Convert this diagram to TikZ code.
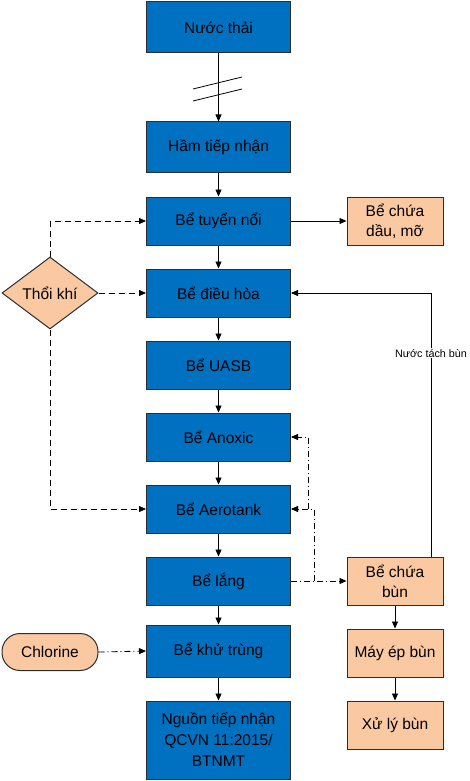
\documentclass[tikz,border=0pt]{standalone}
\usepackage{fontspec}
\setmainfont{Liberation Sans}
\usetikzlibrary{arrows.meta,shapes.geometric,calc}
\definecolor{bluebox}{RGB}{0,112,192}
\definecolor{peach}{RGB}{250,201,162}
\definecolor{edge}{RGB}{45,45,45}
\begin{document}
\begin{tikzpicture}[x=1pt,y=-1pt,
  font=\fontsize{15.5}{20}\selectfont,
  bluestep/.style={draw=edge,line width=1pt,fill=bluebox,minimum width=144pt,minimum height=48pt,inner sep=1pt,align=center},
  peachstep/.style={draw=edge,line width=1pt,fill=peach,minimum width=96pt,minimum height=48pt,inner sep=1pt,align=center},
  arr/.style={draw=black,line width=0.8pt,-{Triangle[length=7pt,width=6pt]}},
  dasharr/.style={arr,dash pattern=on 6pt off 4pt},
  dotarr/.style={arr,dash pattern=on 6pt off 3pt on 1pt off 3pt},
  lbl/.style={font=\fontsize{10.8}{12}\selectfont,fill=white,inner sep=1pt}]
\useasboundingbox (0,0) rectangle (469,781);
\node[bluestep,minimum height=51pt] (nuocthai) at (218.5,27.5) {Nước thải};
\node[bluestep,minimum height=50pt] (ham) at (218.5,147) {Hầm tiếp nhận};
\node[bluestep] (tuyen) at (218.5,221) {Bể tuyển nổi};
\node[bluestep] (dieuhoa) at (218.5,293) {Bể điều hòa};
\node[bluestep] (uasb) at (218.5,365) {Bể UASB};
\node[bluestep] (anoxic) at (218.5,437) {Bể Anoxic};
\node[bluestep] (aerotank) at (218.5,509) {Bể Aerotank};
\node[bluestep] (lang) at (218.5,581) {Bể lắng};
\node[bluestep,minimum height=52pt] (khutrung) at (218.5,651) {Bể khử trùng};
\node[bluestep,minimum height=78pt,font=\fontsize{15.5}{21}\selectfont] (nguon) at (218.5,740) {Nguồn tiếp nhận\\QCVN 11:2015/\\BTNMT};
\node[peachstep] (daumo) at (395,221) {Bể chứa\\dầu, mỡ};
\node[peachstep] (chuabun) at (395,581) {Bể chứa\\bùn};
\node[peachstep] (mayep) at (395,653) {Máy ép bùn};
\node[peachstep] (xuly) at (395,725) {Xử lý bùn};
\node[draw=edge,line width=1pt,fill=peach,diamond,minimum width=96pt,minimum height=72pt,aspect=1.333,inner sep=0pt] (thoikhi) at (50,293) {Thổi khí};
\node[draw=edge,line width=1pt,fill=peach,rounded corners=18pt,minimum width=96pt,minimum height=37pt,inner sep=0pt] (chlorine) at (50,652) {Chlorine};
% break mark
\coordinate (b1) at (193,89); \coordinate (b2) at (242,77);
\coordinate (b3) at (193,101); \coordinate (b4) at (242,89);
\draw[line width=0.8pt] (b1) -- (b2);
\draw[line width=0.8pt] (b3) -- (b4);
% main flow
\draw[arr] (nuocthai) -- (ham);
\draw[arr] (ham) -- (tuyen);
\draw[arr] (tuyen) -- (dieuhoa);
\draw[arr] (dieuhoa) -- (uasb);
\draw[arr] (uasb) -- (anoxic);
\draw[arr] (anoxic) -- (aerotank);
\draw[arr] (aerotank) -- (lang);
\draw[arr] (lang) -- (khutrung);
\draw[arr] (khutrung) -- (nguon);
\draw[arr] (tuyen) -- (daumo);
\draw[arr] (chuabun) -- (mayep);
\draw[arr] (mayep) -- (xuly);
% aeration
\draw[dasharr] (thoikhi.north) |- (tuyen.west);
\draw[dasharr] (thoikhi.east) -- (dieuhoa.west);
\draw[dasharr] (thoikhi.south) |- (aerotank.west);
% sludge recirculation
\draw[dotarr] (lang.east) -- (chuabun.west);
\coordinate (r1) at (314,581);
\coordinate (r2) at (308,509);
\draw[dotarr] (r1) |- (aerotank.east);
\draw[dotarr] (r2) |- (anoxic.east);
% chlorine
\draw[dotarr] (chlorine.east) -- (khutrung.west);
% supernatant return
\coordinate (t1) at (431,557);
\draw[arr] (t1) |- (dieuhoa.east) node[pos=0.386,lbl] {Nước tách bùn};
\end{tikzpicture}
\end{document}
